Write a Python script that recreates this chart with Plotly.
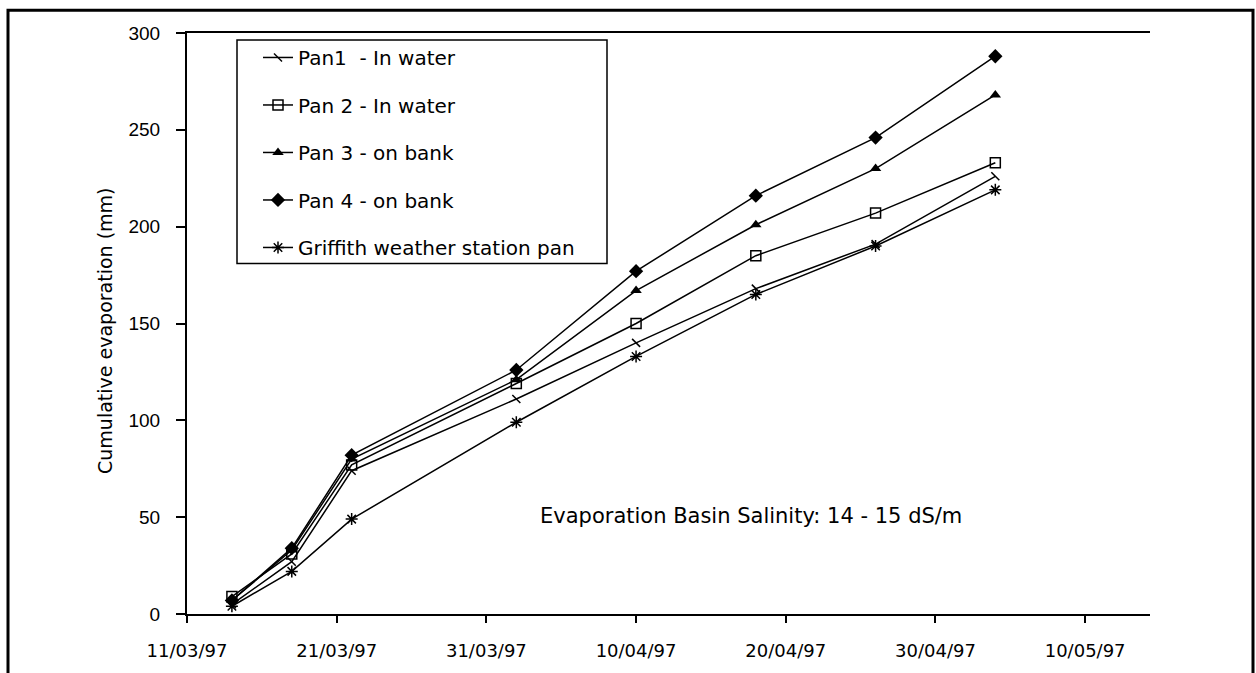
import plotly.graph_objects as go

# measurement dates (1997)
dates = [
    "1997-03-14", "1997-03-18", "1997-03-22", "1997-04-02",
    "1997-04-10", "1997-04-18", "1997-04-26", "1997-05-04",
]

series_names = [
    "Pan1  - In water",
    "Pan 2 - In water",
    "Pan 3 - on bank",
    "Pan 4 - on bank",
    "Griffith weather station pan",
]

pan1 = [5, 27, 74, 111, 140, 168, 191, 226]
pan2 = [9, 31, 77, 119, 150, 185, 207, 233]
pan3 = [7, 33, 80, 121, 167, 201, 230, 268]
pan4 = [7, 34, 82, 126, 177, 216, 246, 288]
griffith = [4, 22, 49, 99, 133, 165, 190, 219]

y_ticks = [0, 50, 100, 150, 200, 250, 300]

FONT = "Liberation Sans, Arial, sans-serif"
WIDE = "DejaVu Sans, sans-serif"

# plot area in pixels: x 187..1150, y 33..618
L, R, T, B = 187, 1150, 33, 618
W, H = 1256, 673


def px(x):
    return (x - L) / (R - L)


def py(y):
    return (B - y) / (B - T)


marker_styles = [
    dict(symbol="line-nw", size=8, color="black", line=dict(color="black", width=1.5)),
    dict(symbol="square-open", size=10, color="black", line=dict(color="black", width=1.5)),
    dict(symbol="triangle-up", size=10, color="black"),
    dict(symbol="diamond", size=11, color="black"),
    dict(symbol="asterisk-open", size=10, color="black", line=dict(color="black", width=1.5)),
]

fig = go.Figure()
for i, (name, values) in enumerate(zip(series_names, [pan1, pan2, pan3, pan4, griffith])):
    fig.add_trace(
        go.Scatter(
            x=dates,
            y=values,
            mode="lines+markers",
            name=name,
            legendgroup=f"g{i}",
            line=dict(color="black", width=1.5),
            marker=marker_styles[i],
        )
    )

# legend box
fig.add_shape(
    type="rect", xref="paper", yref="paper",
    x0=px(237), x1=px(607), y0=py(265), y1=py(40),
    line=dict(color="black", width=1.5), fillcolor="white", layer="below",
)

# outer frame
fig.add_shape(
    type="rect", xref="paper", yref="paper",
    x0=px(8), x1=px(1253), y0=py(700), y1=py(10),
    line=dict(color="black", width=3), fillcolor="rgba(0,0,0,0)",
)

fig.add_annotation(
    text="Evaporation Basin Salinity: 14 - 15 dS/m",
    xref="paper", yref="paper", x=px(751), y=py(533),
    showarrow=False, font=dict(family=WIDE, size=21, color="black"),
)

# y axis title, placed slightly below the plot-area centre as in the original
fig.add_annotation(
    text="Cumulative evaporation (mm)",
    xref="paper", yref="paper", x=px(105), y=py(333),
    xanchor="center", yanchor="middle",
    textangle=-90, showarrow=False,
    font=dict(family=WIDE, size=19, color="black"),
)

fig.update_layout(
    width=W,
    height=H,
    margin=dict(l=L, r=W - R, t=T, b=H - B),
    plot_bgcolor="white",
    paper_bgcolor="white",
    font=dict(family=FONT, size=19, color="black"),
    showlegend=True,
    legend=dict(
        x=px(258), y=py(38), xanchor="left", yanchor="top",
        bgcolor="rgba(0,0,0,0)", borderwidth=0,
        traceorder="grouped", tracegroupgap=18.5,
        font=dict(family=WIDE, size=20, color="black"),
    ),
    xaxis=dict(
        type="date",
        range=["1997-03-11", "1997-05-14 08:00"],
        tick0="1997-03-11",
        dtick=864000000,
        tickformat="%d/%m/%y",
        showgrid=False,
        zeroline=False,
        showline=True,
        linecolor="black",
        linewidth=2,
        mirror=True,
        ticks="outside",
        ticklen=7,
        tickwidth=1.5,
        tickcolor="black",
        ticklabelstandoff=12,
        tickfont=dict(family=WIDE, size=18),
    ),
    yaxis=dict(
        range=[0, 300],
        tickvals=y_ticks,
        showgrid=False,
        zeroline=False,
        showline=True,
        linecolor="black",
        linewidth=2,
        ticks="outside",
        ticklen=9,
        tickwidth=1.5,
        tickcolor="black",
        ticklabelstandoff=12,
        tickfont=dict(family=FONT, size=19),
    ),
)

fig.write_html(
    "out.html",
    config={"displayModeBar": False},
    post_script="document.body.style.margin='0';",
)
